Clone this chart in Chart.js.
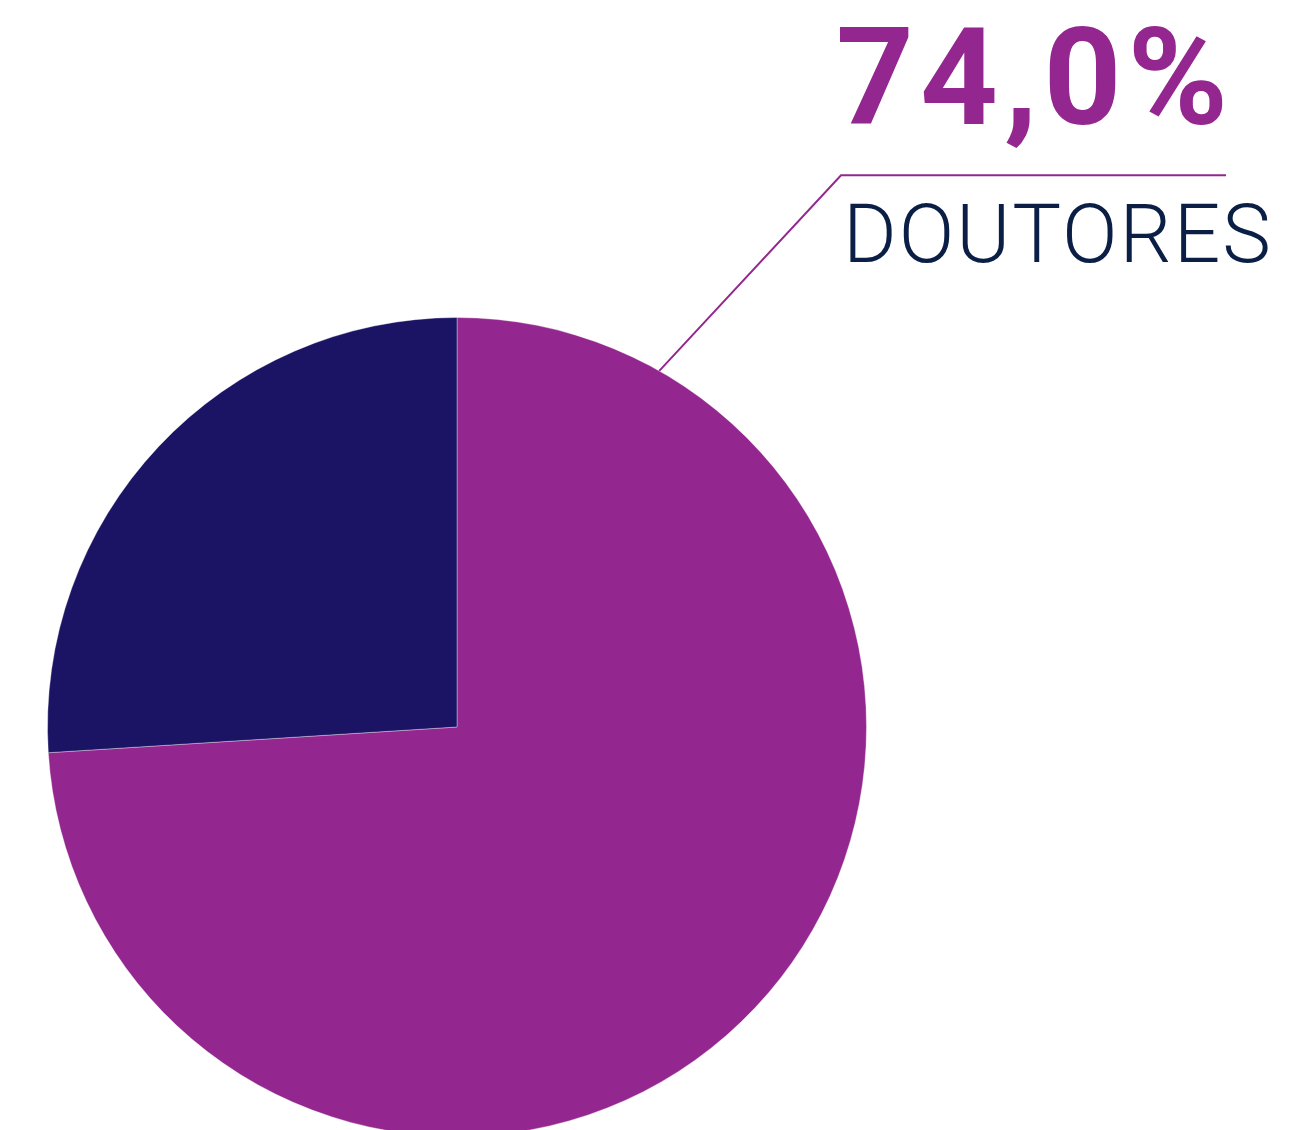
<!DOCTYPE html>
<html>
<head>
<meta charset="utf-8">
<script src="https://cdn.jsdelivr.net/npm/chart.js@4"></script>
<style>
  html, body { margin: 0; padding: 0; background: #fff; overflow: hidden; }
  #wrap { position: absolute; left: 0; top: 0; width: 1292px; height: 1150px; }
  .lbl { position: absolute; white-space: nowrap; line-height: 1; font-family: Roboto, sans-serif; }
  #pct { left: 836px; top: 10px; font-size: 136px; font-weight: 700; color: #93278F; letter-spacing: 6px; }
  #name { left: 843px; top: 193px; font-size: 82px; font-weight: 300; color: #0B1E45; letter-spacing: 2px; }
</style>
</head>
<body>
<div id="wrap"><canvas id="chart" width="1292" height="1150"></canvas></div>
<div class="lbl" id="pct"></div>
<div class="lbl" id="name"></div>
<script>
const categories = ['Doutores', 'Outros'];
const values = [74.0, 26.0];
const colors = ['#93278F', '#1B1464'];

const highlight = 0; // slice that gets the callout

document.getElementById('pct').textContent = values[highlight].toFixed(1).replace('.', ',') + '%';
document.getElementById('name').textContent = categories[highlight].toUpperCase();

const leaderLine = {
  id: 'leaderLine',
  afterDatasetsDraw(chart, args, opts) {
    const arc = chart.getDatasetMeta(0).data[opts.index];
    if (!arc) return;
    const ctx = chart.ctx;
    const a = (opts.anchorDeg - 90) * Math.PI / 180;
    const x0 = arc.x + arc.outerRadius * Math.cos(a);
    const y0 = arc.y + arc.outerRadius * Math.sin(a);
    const b = opts.elbowDeg * Math.PI / 180;
    const x1 = x0 + opts.elbowLen * Math.cos(b);
    const y1 = y0 + opts.elbowLen * Math.sin(b);
    ctx.save();
    ctx.strokeStyle = opts.color;
    ctx.lineWidth = opts.width;
    ctx.beginPath();
    ctx.moveTo(x0, y0);
    ctx.lineTo(x1, y1);
    ctx.lineTo(x1 + opts.tailLen, y1);
    ctx.stroke();
    ctx.restore();
  }
};

new Chart(document.getElementById('chart').getContext('2d'), {
  type: 'pie',
  data: {
    labels: categories,
    datasets: [{
      data: values,
      backgroundColor: colors,
      borderColor: 'rgba(255,255,255,0.35)',
      borderWidth: 1
    }]
  },
  options: {
    responsive: false,
    animation: false,
    layout: { padding: { left: 47, right: 425, top: 317, bottom: 13 } },
    plugins: {
      legend: { display: false },
      tooltip: { enabled: false },
      leaderLine: { index: highlight, anchorDeg: 29.6, elbowDeg: -47.1, elbowLen: 267, tailLen: 385, color: '#93278F', width: 2 }
    }
  },
  plugins: [leaderLine]
});
</script>
</body>
</html>
